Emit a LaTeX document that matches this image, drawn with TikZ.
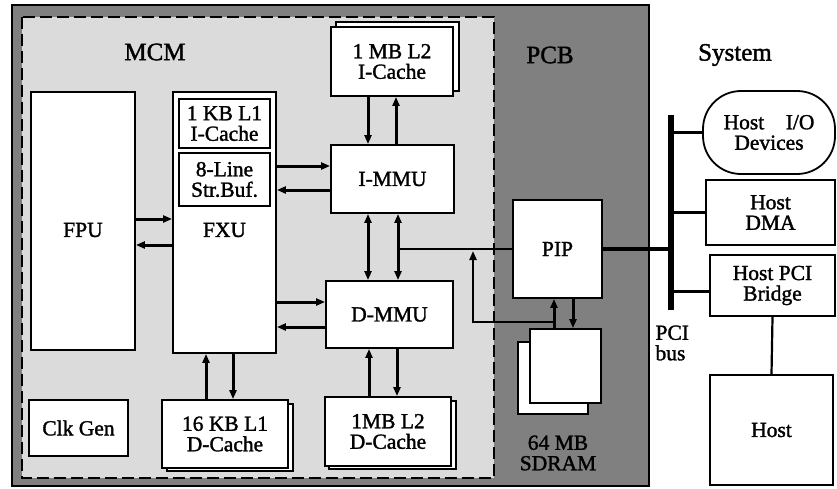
\documentclass[tikz,border=0pt]{standalone}
\usepackage{fontspec}
\setmainfont[FakeBold=1.5]{Liberation Serif}
\usetikzlibrary{arrows.meta,calc}

\begin{document}
\begin{tikzpicture}[x=1pt, y=-1pt, >={Triangle[length=9pt,width=7pt]},
		font=\fontsize{21.5}{20.5}\selectfont,
		blk/.style={draw, line width=1.8pt, fill=white, inner sep=0pt, align=center},
		back/.style={draw, line width=1.8pt, fill=white},
		title/.style={font=\fontsize{25}{25}\selectfont},
		link/.style={line width=3pt},
		wire/.style={line width=2.2pt}]
		\useasboundingbox (0,0) rectangle (837,488);
		% boards
		\filldraw[fill=black!50, line width=1.8pt] (12,5) rectangle (649,486);
		\filldraw[fill=black!14, line width=1.8pt, dash pattern=on 12pt off 5pt] (22,17) rectangle (494,478);
		\node[title] (mcm) at (155,52) {MCM};
		\node[title] (pcb) at (550,55) {PCB};
		\node[title] (sys) at (735,55) {System};
		% second copies behind the caches and the SDRAM
		\filldraw[back] (336,22) rectangle (459,91);
		\filldraw[back] (167,404) rectangle (293,471);
		\filldraw[back] (329,401) rectangle (456,469);
		\filldraw[back] (518,342) rectangle (588,414);
		% MCM blocks
		\node[blk, minimum width=104pt, minimum height=258pt] (fpu) at (83,221) {};
		\node (fpulbl) at (83,230) {FPU};
		\node[blk, minimum width=103pt, minimum height=261pt] (fxu) at (224.5,222.5) {};
		\node (fxulbl) at (224.5,230) {FXU};
		\node[blk, minimum width=91pt, minimum height=49pt, line width=1.2pt] (l1i) at (224.5,123.5) {1 KB L1\\I-Cache};
		\node[blk, minimum width=91pt, minimum height=53pt, line width=1.2pt] (sbuf) at (224.5,179.5) {8-Line\\Str.Buf.};
		\node[blk, minimum width=122pt, minimum height=69pt] (l2i) at (392,61.5) {1 MB L2\\I-Cache};
		\node[blk, minimum width=123pt, minimum height=68pt] (immu) at (392.5,179) {I-MMU};
		\node[blk, minimum width=127pt, minimum height=67pt] (dmmu) at (389.5,314.5) {D-MMU};
		\node[blk, minimum width=99pt, minimum height=56pt] (clk) at (78.5,428) {Clk Gen};
		\node[blk, minimum width=126pt, minimum height=68pt] (l1d) at (225,434) {16 KB L1\\D-Cache};
		\node[blk, minimum width=126pt, minimum height=69pt] (l2d) at (388,431.5) {1MB L2\\D-Cache};
		% PCB blocks
		\node[blk, minimum width=89pt, minimum height=98pt] (pip) at (557.5,249) {PIP};
		\node[blk, minimum width=71pt, minimum height=74pt] (sdf) at (565.5,366) {};
		\node[align=center] (sdlbl) at (558,453) {64 MB\\SDRAM};
		% system blocks
		\node[blk, rounded corners=38pt, minimum width=132pt, minimum height=83pt] (hio) at (769,132.5) {Host\quad I/O\\Devices};
		\node[blk, minimum width=129pt, minimum height=65pt] (hdma) at (770.5,212.5) {Host\\DMA};
		\node[blk, minimum width=125pt, minimum height=61pt] (hpci) at (772.5,285.5) {Host PCI\\Bridge};
		\node[blk, minimum width=123pt, minimum height=110pt] (host) at (771.5,430) {Host};
		% FPU <-> FXU
		\draw[link,->] ([yshift=2pt]fpu.east) -- ([yshift=2pt]fpu.east -| fxu.west);
		\draw[link,<-] ([yshift=-24pt]fpu.east) -- ([yshift=-24pt]fpu.east -| fxu.west);
		% FXU <-> MMUs
		\draw[link,->] ([yshift=13pt]immu.west -| fxu.east) -- ([yshift=13pt]immu.west);
		\draw[link,<-] ([yshift=-11pt]immu.west -| fxu.east) -- ([yshift=-11pt]immu.west);
		\draw[link,->] ([yshift=12.5pt]dmmu.west -| fxu.east) -- ([yshift=12.5pt]dmmu.west);
		\draw[link,<-] ([yshift=-12.5pt]dmmu.west -| fxu.east) -- ([yshift=-12.5pt]dmmu.west);
		% caches
		\draw[link,->] ([xshift=-24pt]l2i.south) -- ([xshift=-24pt]l2i.south |- immu.north);
		\draw[link,<-] ([xshift=4pt]l2i.south) -- ([xshift=4pt]l2i.south |- immu.north);
		\draw[link,<-] ([xshift=-20.5pt]dmmu.south) -- ([xshift=-20.5pt]dmmu.south |- l2d.north);
		\draw[link,->] ([xshift=7.5pt]dmmu.south) -- ([xshift=7.5pt]dmmu.south |- l2d.north);
		\draw[link,<-] ([xshift=-18.5pt]fxu.south) -- ([xshift=-18.5pt]fxu.south |- l1d.north);
		\draw[link,->] ([xshift=8.5pt]fxu.south) -- ([xshift=8.5pt]fxu.south |- l1d.north);
		% I-MMU <-> D-MMU, and the line to the PIP
		\draw[link,<->] ([xshift=-24.5pt]immu.south) -- ([xshift=-24.5pt]immu.south |- dmmu.north);
		\draw[link,<->] ([xshift=5.5pt]immu.south) -- ([xshift=5.5pt]immu.south |- dmmu.north);
		\draw[wire] (pip.west) -- ([xshift=5.5pt]immu.south |- pip.west);
		% PIP <-> SDRAM
		\coordinate (brk) at (0,322);
		\coordinate (tap) at (473,251);
		\draw[link,<-] ([xshift=-3.5pt]pip.south) -- ([xshift=-3.5pt]pip.south |- sdf.north);
		\draw[link,->] ([xshift=15.5pt]pip.south) -- ([xshift=15.5pt]pip.south |- sdf.north);
		\draw[wire,->] ([xshift=-3.5pt]pip.south |- brk) -| (tap);
		% PCI bus
		\coordinate (bustop) at (671,115);
		\coordinate (busbot) at (671,310);
		\draw[line width=5.5pt] (bustop) -- (busbot);
		\draw[line width=3.5pt] (pip.east) -- (pip.east -| bustop);
		\draw[wire] (hio.west -| bustop) -- (hio.west);
		\draw[wire] (hdma.west -| bustop) -- (hdma.west);
		\draw[wire] ([yshift=-6pt]hpci.west -| bustop) -- ([yshift=-6pt]hpci.west);
		\draw[wire] (hpci.south) -- (host.north);
		\node[align=left, anchor=west] (pcilbl) at (652,343) {PCI\\bus};
	\end{tikzpicture}
\end{document}
